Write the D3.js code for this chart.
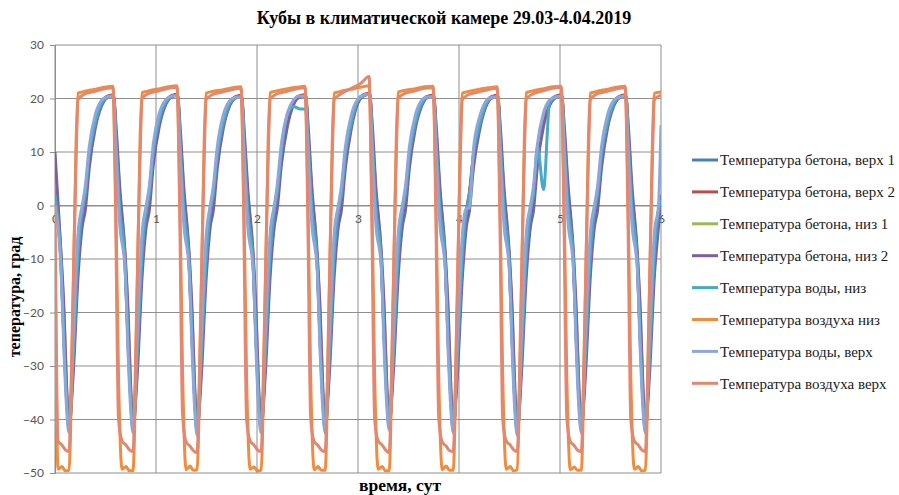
<!DOCTYPE html>
<html>
<head>
<meta charset="utf-8">
<script src="https://cdn.jsdelivr.net/npm/d3@7"></script>
<style>
  body { margin: 0; background: #fff; }
  svg { display: block; }
</style>
</head>
<body>
<svg id="chart" width="899" height="495"></svg>
<script>
// series names, in legend order
var seriesNames = [
    'Температура бетона, верх 1',
    'Температура бетона, верх 2',
    'Температура бетона, низ 1',
    'Температура бетона, низ 2',
    'Температура воды, низ',
    'Температура воздуха низ',
    'Температура воды, верх',
    'Температура воздуха верх'
];
var seriesColors = ['#4a7ebb', '#be4b48', '#98b954', '#7d60a0', '#46aac5', '#f08c3e', '#8da8d8', '#e3876f'];

var xTicks = [0, 1, 2, 3, 4, 5, 6];
var yTicks = [30, 20, 10, 0, -10, -20, -30, -40, -50];

// time column (days) for concrete and water sensors
var concreteDays = [
    0, 0.06, 0.09, 0.115,
    0.139, 0.179, 0.229, 0.269, 0.299, 0.339, 0.399, 0.459, 0.514, 0.579, 0.604, 0.639, 0.694, 0.724, 0.749,
    0.773, 0.813, 0.863, 0.903, 0.933, 0.973, 1.033, 1.093, 1.148, 1.213, 1.238, 1.273, 1.328, 1.358, 1.383,
    1.407, 1.447, 1.497, 1.537, 1.567, 1.607, 1.667, 1.727, 1.782, 1.847, 1.872, 1.907, 1.962, 1.992, 2.017,
    2.041, 2.081, 2.131, 2.171, 2.201, 2.241, 2.301, 2.361, 2.416, 2.481, 2.506, 2.541, 2.596, 2.626, 2.651,
    2.675, 2.715, 2.765, 2.805, 2.835, 2.875, 2.935, 2.995, 3.05, 3.115, 3.14, 3.175, 3.23, 3.26, 3.285,
    3.309, 3.349, 3.399, 3.439, 3.469, 3.509, 3.569, 3.629, 3.684, 3.749, 3.774, 3.809, 3.864, 3.894, 3.919,
    3.943, 3.983, 4.033, 4.073, 4.103, 4.143, 4.203, 4.263, 4.318, 4.383, 4.408, 4.443, 4.498, 4.528, 4.553,
    4.577, 4.617, 4.667, 4.707, 4.737, 4.777, 4.837, 4.897, 4.952, 5.017, 5.042, 5.077, 5.132, 5.162, 5.187,
    5.211, 5.251, 5.301, 5.341, 5.371, 5.411, 5.471, 5.531, 5.586, 5.651, 5.676, 5.711, 5.766, 5.796, 5.821,
    5.845, 5.885, 5.935, 5.975, 6.0
];

var betonTop1 = [
    3, -11, -26, -36,
    -42, -29, -9, -1, 2, 9, 15.5, 19, 20.3, 20.6, 12, 0, -11, -26, -36,
    -42, -28, -9, -1, 2, 9.5, 16, 19.2, 20.4, 20.7, 12, 0, -11, -25, -36,
    -42.5, -29, -10, -1, 2, 9, 15.5, 19, 20.2, 20.5, 11.5, -0.5, -11, -26, -36.5,
    -42, -28, -9, -1, 2.5, 9.5, 16, 19.3, 20.4, 20.6, 12, 0, -11, -26, -36,
    -42, -29, -9, -1, 2, 9, 15.5, 19.5, 20.6, 20.9, 12.5, 0, -10.5, -25, -35.5,
    -41.5, -28, -9, -1, 2, 9, 15.5, 19, 20.3, 20.5, 12, 0, -11, -26, -36,
    -42, -29, -9.5, -1, 2, 9, 15, 18.8, 20.2, 20.5, 12, 0, -11, -26, -36.5,
    -42.5, -29, -9, -1, 2, 9.5, 16, 19.2, 20.3, 20.6, 12, 0.5, -10.5, -25.5, -36,
    -42, -28.5, -9, -1, 2, 9, 15.5, 19, 20.3, 20.6, 12, 0, -11, -26, -36,
    -42, -29, -9, -1, 1.5
];

var betonTop2 = [
    3.5, -10.5, -25, -35.5,
    -41.5, -28, -8, -1, 2.5, 9.5, 16, 19.3, 20.4, 20.7, 12.5, 0.5, -10.5, -25, -35.5,
    -41.5, -27.5, -8, -1, 2.5, 10, 16.3, 19.4, 20.5, 20.8, 12.5, 0.5, -10.5, -24.5, -35.5,
    -42, -28, -8.5, -1, 2.5, 9.5, 16, 19.2, 20.3, 20.6, 12, 0, -10.5, -25, -36,
    -41.5, -27.5, -8, -1, 3, 10, 16.3, 19.5, 20.5, 20.7, 12.5, 0.5, -10.5, -25, -35.5,
    -41.5, -28, -8, -1, 2.5, 9.5, 16, 19.6, 20.7, 21, 13, 0.5, -10, -24.5, -35,
    -41, -27.5, -8, -1, 2.5, 9.5, 16, 19.3, 20.4, 20.6, 12.5, 0.5, -10.5, -25, -35.5,
    -41.5, -28, -8.5, -1, 2.5, 9.5, 15.5, 19, 20.3, 20.6, 12.5, 0.5, -10.5, -25, -36,
    -42, -28, -8, -1, 2.5, 10, 16.3, 19.4, 20.4, 20.7, 12.5, 1, -10, -25, -35.5,
    -41.5, -28, -8, -1, 2.5, 9.5, 16, 19.3, 20.4, 20.7, 12.5, 0.5, -10.5, -25, -35.5,
    -41.5, -28, -8, -1, 2
];

var betonBottom1 = [
    7, -9.5, -21, -34,
    -41, -30, -11, -2, 1, 8, 15, 18.8, 20.2, 20.5, 14, 3, -9.5, -21, -34,
    -41, -30, -11, -2, 1, 8.5, 15.3, 19, 20.3, 20.6, 14, 3, -9.5, -21, -34,
    -41.5, -30.5, -11.5, -2, 1, 8, 15, 18.8, 20.1, 20.4, 13.5, 2.5, -9.5, -21.5, -34.5,
    -41, -30, -11, -2, 1.5, 8.5, 15.3, 19.1, 20.3, 20.5, 14, 3, -9.5, -21, -34,
    -41, -30, -11, -2, 1, 8, 15, 19.3, 20.5, 20.8, 14.5, 3, -9, -20.5, -33.5,
    -40.5, -29.5, -11, -2, 1, 8, 15, 18.8, 20.2, 20.4, 14, 3, -9.5, -21, -34,
    -41, -30, -11.5, -2, 1, 8, 14.5, 18.6, 20.1, 20.4, 14, 3, -9.5, -21, -34.5,
    -41.5, -30, -11, -2, 1, 8.5, 15.3, 19, 20.2, 20.5, 14, 3.5, -9, -21, -34,
    -41, -30, -11, -2, 1, 8, 15, 18.8, 20.2, 20.5, 14, 3, -9.5, -21, -34,
    -41, -30, -11, -2, 0
];

var betonBottom2 = [
    10, -9, -20, -34,
    -41.5, -32, -13, -4, -1, 7, 14.5, 18.5, 20.1, 20.5, 15, 4, -9, -20, -34,
    -41.5, -32, -13, -4, -1, 7.5, 14.8, 18.7, 20.2, 20.6, 15, 4, -9, -20, -34,
    -42, -32.5, -13.5, -4, -1, 7, 14.5, 18.5, 20, 20.4, 14.5, 3.5, -9, -20.5, -34.5,
    -41.5, -32, -13, -4, -0.5, 7.5, 14.8, 18.8, 20.2, 20.5, 15, 4, -9, -20, -34,
    -41.5, -32, -13, -4, -1, 7, 14.5, 19, 20.4, 20.8, 15.5, 4, -8.5, -19.5, -33.5,
    -41, -31.5, -13, -4, -1, 7, 14.5, 18.5, 20.1, 20.4, 15, 4, -9, -20, -34,
    -41.5, -32, -13.5, -4, -1, 7, 14, 18.3, 20, 20.4, 15, 4, -9, -20, -34.5,
    -42, -32, -13, -4, -1, 7.5, 14.8, 18.7, 20.1, 20.5, 15, 4.5, -8.5, -20, -34,
    -41.5, -32, -13, -4, -1, 7, 14.5, 18.5, 20.1, 20.5, 15, 4, -9, -20, -34,
    -41.5, -32, -13, -4, 2
];

var waterBottom = [
    2, -11, -26, -36.5,
    -42, -29, -9, -1, 2, 9.5, 15.5, 19, 20.2, 20.5, 12, 0, -11, -26, -36.5,
    -42, -28.5, -9, -1, 2, 10, 16, 19.2, 20.3, 20.6, 12, 0, -11, -25.5, -36.5,
    -42.5, -29, -10, -1, 2, 9.5, 15.5, 19, 20.1, 20.4, 11.5, -0.5, -11, -26, -37,
    -42, -28.5, -9, -1, 2.5, 10, 17, 18.5, 18.1, 18, 12, 0, -11, -26, -36.5,
    -42, -29, -9, -1, 2, 9.5, 15.5, 19.5, 20.5, 20.8, 12.5, 0, -10.5, -25.5, -36,
    -41.5, -28.5, -9, -1, 2, 9.5, 15.5, 19, 20.2, 20.4, 12, 0, -11, -26, -36.5,
    -42, -29, -9.5, -1, 2, 9.5, 15, 18.8, 20.1, 20.4, 12, 0, -11, -26, -37,
    -42.5, -29, -9, -1, 2, 11, 3, 19.2, 20.2, 20.5, 12, 0.5, -10.5, -25.5, -36.5,
    -42, -28.5, -9, -1, 2, 9.5, 15.5, 19, 20.2, 20.5, 12, 0, -11, -26, -36.5,
    -42, -29, -9, -1, 1
];

var waterTop = [
    0, -12, -28, -38,
    -42.5, -25, -5, 0, 3.5, 11, 17, 19.6, 20.3, 20.4, 10, -3, -12, -28, -38,
    -42.5, -24.5, -5, 0, 3.5, 11.5, 17.3, 19.7, 20.4, 20.5, 10, -3, -12, -27.5, -38,
    -43, -25, -5.5, 0, 3.5, 11, 17, 19.5, 20.2, 20.3, 9.5, -3.5, -12, -28, -38.5,
    -42.5, -24.5, -5, 0, 4, 11.5, 17.3, 19.7, 20.4, 20.4, 10, -3, -12, -28, -38,
    -42.5, -25, -5, 0, 3.5, 11, 17, 19.8, 20.6, 20.8, 10.5, -3, -11.5, -27.5, -37.5,
    -42, -24.5, -5, 0, 3.5, 11, 17, 19.6, 20.3, 20.3, 10, -3, -12, -28, -38,
    -42.5, -25, -5.5, -0.5, -0.5, 10.5, 16.5, 19.4, 20.2, 20.3, 10, -3, -12, -28, -38.5,
    -43, -25, -5, 0, 3.5, 11.5, 17.3, 19.7, 20.3, 20.4, 10, -2.5, -11.5, -27.5, -38,
    -42.5, -24.5, -5, 0, 3.5, 11, 17, 19.6, 20.3, 20.4, 10, -3, -12, -28, -38,
    -42.5, -25, -5, 0, 15
];

// time column (days) for the air sensors
var airDays = [
    0, 0.03, 0.07, 0.1,
    0.139, 0.169, 0.209, 0.229, 0.289, 0.389, 0.489, 0.574, 0.599, 0.629, 0.664, 0.704, 0.734,
    0.773, 0.803, 0.843, 0.863, 0.923, 1.023, 1.123, 1.208, 1.233, 1.263, 1.298, 1.338, 1.368,
    1.407, 1.437, 1.477, 1.497, 1.557, 1.657, 1.757, 1.842, 1.867, 1.897, 1.932, 1.972, 2.002,
    2.041, 2.071, 2.111, 2.131, 2.191, 2.291, 2.391, 2.476, 2.501, 2.531, 2.566, 2.606, 2.636,
    2.675, 2.705, 2.745, 2.765, 2.825, 2.925, 3.025, 3.11, 3.135, 3.165, 3.2, 3.24, 3.27,
    3.309, 3.339, 3.379, 3.399, 3.459, 3.559, 3.659, 3.744, 3.769, 3.799, 3.834, 3.874, 3.904,
    3.943, 3.973, 4.013, 4.033, 4.093, 4.193, 4.293, 4.378, 4.403, 4.433, 4.468, 4.508, 4.538,
    4.577, 4.607, 4.647, 4.667, 4.727, 4.827, 4.927, 5.012, 5.037, 5.067, 5.102, 5.142, 5.172,
    5.211, 5.241, 5.281, 5.301, 5.361, 5.461, 5.561, 5.646, 5.671, 5.701, 5.736, 5.776, 5.806,
    5.845, 5.875, 5.915, 5.935, 6.0
];

var airBottom = [
    -5, -49.3, -48.8, -49.6,
    -49.5, -28, 12, 21, 21.3, 21.7, 22.1, 22.3, 4, -32, -49.3, -48.8, -49.6,
    -49.6, -27, 13, 21.1, 21.4, 21.8, 22.2, 22.4, 5, -31, -49.4, -48.7, -49.5,
    -49.4, -28, 12, 21, 21.3, 21.6, 22.0, 22.2, 4, -32, -49.3, -48.9, -49.6,
    -49.5, -27.5, 12.5, 21.1, 21.4, 21.8, 22.1, 22.3, 4.5, -31.5, -49.4, -48.8, -49.5,
    -49.5, -28, 12, 21, 21.3, 21.7, 22.1, 22.4, 4, -32, -49.3, -48.8, -49.6,
    -49.6, -27.5, 12.5, 21.2, 21.5, 21.8, 22.2, 22.3, 4.5, -31.5, -49.4, -48.7, -49.5,
    -49.5, -28, 12, 21, 21.3, 21.7, 22.0, 22.2, 4, -32, -49.3, -48.8, -49.6,
    -49.4, -27.5, 12.5, 21.1, 21.4, 21.8, 22.2, 22.3, 4.5, -31.5, -49.4, -48.9, -49.5,
    -49.5, -28, 12, 21, 21.3, 21.7, 22.1, 22.3, 4, -32, -49.3, -48.8, -49.6,
    -49.5, -28, 12, 21, 21.2
];

var airTop = [
    0, -44, -44.8, -45.6,
    -46, -25, 9, 19.8, 20.8, 21.3, 21.8, 22.0, 0, -40, -44, -44.8, -45.6,
    -46, -24, 10, 20, 20.9, 21.4, 21.9, 22.1, 1, -39, -44.2, -45, -45.8,
    -46.2, -25, 9, 19.8, 20.7, 21.2, 21.7, 21.9, 0, -40, -44, -44.8, -45.6,
    -46, -24.5, 9.5, 19.9, 20.8, 21.3, 21.8, 22.0, 0.5, -39.5, -44.1, -44.9, -45.7,
    -46, -25, 9, 19.8, 20.8, 21.8, 22.8, 24.1, 0, -40, -44, -44.8, -45.6,
    -46.2, -24.5, 9.5, 20, 20.9, 21.4, 21.9, 22.0, 0.5, -39.5, -44.2, -45, -45.8,
    -46, -25, 9, 19.8, 20.7, 21.2, 21.7, 21.9, 0, -40, -44, -44.8, -45.6,
    -46, -24.5, 9.5, 19.9, 20.8, 21.4, 21.9, 22.1, 0.5, -39.5, -44.1, -44.9, -45.7,
    -46, -25, 9, 19.8, 20.8, 21.3, 21.8, 22.0, 0, -40, -44, -44.8, -45.6,
    -46, -25, 9, 19.8, 20.6
];

var seriesValues = [betonTop1, betonTop2, betonBottom1, betonBottom2, waterBottom, airBottom, waterTop, airTop];
var seriesDays = [concreteDays, concreteDays, concreteDays, concreteDays, concreteDays, airDays, concreteDays, airDays];

var plot = { left: 55, right: 661, top: 45, bottom: 473 };
var gridColor = '#8e8e8e';
var serif = '"Liberation Serif", "Times New Roman", serif';

var svg = d3.select('#chart');

var x = d3.scaleLinear().domain([0, 6]).range([plot.left, plot.right]);
var y = d3.scaleLinear().domain([-50, 30]).range([plot.bottom, plot.top]);

// grid
var grid = svg.append('g').attr('class', 'grid');
grid.selectAll('line.h')
    .data(yTicks)
    .enter().append('line')
    .attr('x1', plot.left).attr('x2', plot.right)
    .attr('y1', function (d) { return y(d); })
    .attr('y2', function (d) { return y(d); })
    .attr('stroke', gridColor).attr('stroke-width', 1);
grid.selectAll('line.v')
    .data(xTicks)
    .enter().append('line')
    .attr('y1', plot.top).attr('y2', plot.bottom)
    .attr('x1', function (d) { return x(d); })
    .attr('x2', function (d) { return x(d); })
    .attr('stroke', gridColor).attr('stroke-width', 1);

// axes
var yAxis = svg.append('g')
    .attr('transform', 'translate(' + plot.left + ',0)')
    .call(d3.axisLeft(y).tickValues(yTicks).tickSize(5).tickPadding(6));
var xAxis = svg.append('g')
    .attr('transform', 'translate(0,' + y(0) + ')')
    .call(d3.axisBottom(x).tickValues(xTicks).tickSize(0).tickPadding(9).tickFormat(d3.format('d')));

[yAxis, xAxis].forEach(function (ax) {
    ax.select('.domain').attr('stroke', gridColor);
    ax.selectAll('.tick line').attr('stroke', gridColor);
    ax.selectAll('.tick text')
        .attr('fill', '#555')
        .attr('font-family', 'Lato, "Open Sans", sans-serif')
        .attr('font-size', 12);
});

// lines
svg.append('clipPath').attr('id', 'plot-clip')
    .append('rect')
    .attr('x', plot.left).attr('y', plot.top - 5)
    .attr('width', plot.right - plot.left).attr('height', plot.bottom - plot.top + 5);

var line = d3.line()
    .x(function (d) { return x(d[0]); })
    .y(function (d) { return y(d[1]); })
    .curve(d3.curveMonotoneX);

var lines = svg.append('g').attr('clip-path', 'url(#plot-clip)');
seriesValues.forEach(function (vals, i) {
    var days = seriesDays[i];
    if (days.length !== vals.length) {
        throw new Error('length mismatch in series ' + i + ': ' + days.length + ' vs ' + vals.length);
    }
    lines.append('path')
        .datum(d3.zip(days, vals))
        .attr('fill', 'none')
        .attr('stroke', seriesColors[i])
        .attr('stroke-width', 3)
        .attr('stroke-linejoin', 'round')
        .attr('d', line);
});

// legend
var legend = svg.append('g').attr('class', 'legend');
seriesNames.forEach(function (name, i) {
    var ly = 160 + i * 31.9;
    legend.append('line')
        .attr('x1', 692).attr('x2', 718)
        .attr('y1', ly).attr('y2', ly)
        .attr('stroke', seriesColors[i])
        .attr('stroke-width', 3);
    legend.append('text')
        .attr('x', 720).attr('y', ly)
        .attr('dy', '0.35em')
        .attr('font-family', serif)
        .attr('font-size', 15)
        .attr('fill', '#1a1a1a')
        .text(name);
});

// titles
svg.append('text')
    .attr('x', 444).attr('y', 24)
    .attr('text-anchor', 'middle')
    .attr('font-family', serif)
    .attr('font-weight', 'bold')
    .attr('font-size', 18)
    .text('Кубы в климатической камере 29.03-4.04.2019');

svg.append('text')
    .attr('transform', 'translate(20,297) rotate(-90)')
    .attr('text-anchor', 'middle')
    .attr('font-family', serif)
    .attr('font-weight', 'bold')
    .attr('font-size', 16)
    .text('тепература, град');

svg.append('text')
    .attr('x', 400).attr('y', 491)
    .attr('text-anchor', 'middle')
    .attr('font-family', serif)
    .attr('font-weight', 'bold')
    .attr('font-size', 17.5)
    .text('время, сут');
</script>
</body>
</html>
